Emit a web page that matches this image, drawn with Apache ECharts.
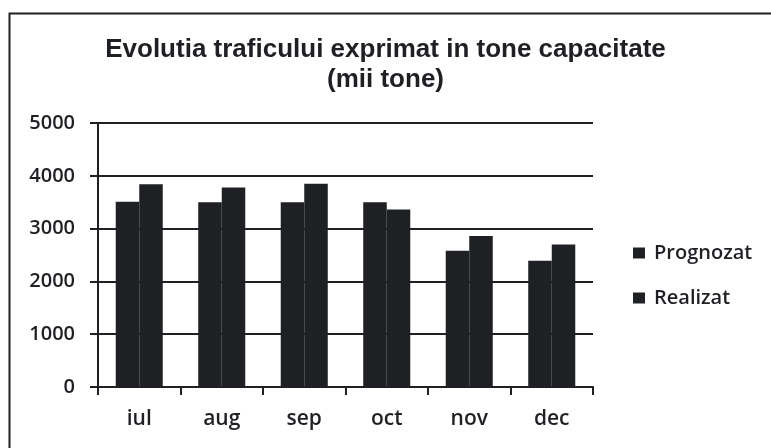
<!DOCTYPE html>
<html>
<head>
<meta charset="utf-8">
<script src="https://cdn.jsdelivr.net/npm/echarts@6/dist/echarts.min.js"></script>
<style>
  html, body { margin: 0; padding: 0; background: #fff; }
  #chart { width: 771px; height: 448px; }
</style>
</head>
<body>
<div id="chart"></div>
<script>
// luni si valori (mii tone)
const months = ['iul', 'aug', 'sep', 'oct', 'nov', 'dec']
const prognozat = [3510, 3500, 3500, 3500, 2580, 2390]
const realizat = [3840, 3780, 3850, 3360, 2860, 2700]
const yTicks = [0, 1000, 2000, 3000, 4000, 5000]

const ink = '#1f2024'
const chart = echarts.init(document.getElementById('chart'))

const option = {
  animation: false,
  backgroundColor: '#fff',
  title: {
    text: 'Evolutia traficului exprimat in tone capacitate\n(mii tone)',
    left: 'center',
    top: 35,
    padding: 0,
    textStyle: {
      fontFamily: 'Liberation Sans',
      fontWeight: 'bold',
      fontSize: 26,
      lineHeight: 30,
      color: ink
    }
  },
  legend: {
    orient: 'vertical',
    left: 633,
    top: 243,
    padding: 0,
    itemWidth: 12,
    itemHeight: 11,
    itemGap: 25,
    icon: 'rect',
    textStyle: {
      fontFamily: 'Open Sans',
      fontWeight: 600,
      fontSize: 20,
      color: ink,
      padding: [0, 0, 0, 4]
    },
    data: ['Prognozat', 'Realizat']
  },
  grid: {
    left: 98,
    right: 178,
    top: 123,
    bottom: 61,
    containLabel: false
  },
  xAxis: {
    type: 'category',
    data: months,
    axisLine: { lineStyle: { color: ink, width: 2 } },
    axisTick: { show: true, length: 8, lineStyle: { color: ink, width: 2 } },
    axisLabel: {
      margin: 22,
      fontFamily: 'Open Sans',
      fontWeight: 600,
      fontSize: 21,
      color: ink
    }
  },
  yAxis: {
    type: 'value',
    min: yTicks[0],
    max: yTicks[yTicks.length - 1],
    interval: 1000,
    axisLine: { show: true, lineStyle: { color: ink, width: 2 } },
    axisTick: { show: true, length: 8, lineStyle: { color: ink, width: 2 } },
    splitLine: { show: true, lineStyle: { color: ink, width: 2 } },
    axisLabel: {
      margin: 23,
      fontFamily: 'Open Sans',
      fontWeight: 600,
      fontSize: 20,
      color: ink,
      formatter: v => String(v)
    }
  },
  series: [
    {
      name: 'Prognozat',
      type: 'bar',
      data: prognozat,
      barGap: '0%',
      barCategoryGap: '43%',
      itemStyle: { color: ink }
    },
    {
      name: 'Realizat',
      type: 'bar',
      data: realizat,
      itemStyle: { color: ink }
    }
  ],
  graphic: [
    {
      type: 'rect',
      left: 7,
      top: 11,
      shape: { width: 900, height: 600 },
      style: { fill: null, stroke: ink, lineWidth: 2 },
      z: -1
    }
  ]
}

chart.setOption(option)
</script>
</body>
</html>
